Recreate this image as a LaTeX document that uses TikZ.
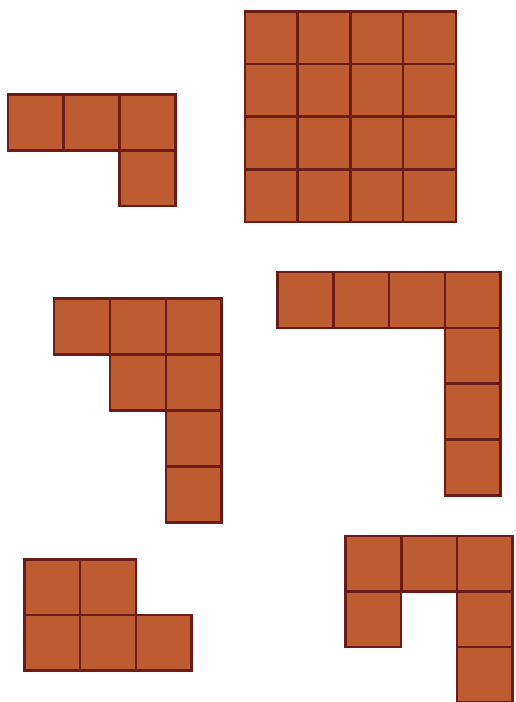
\documentclass[tikz,border=0pt]{standalone}
\begin{document}
\begin{tikzpicture}[x=1pt,y=-1pt,
  cell/.style={fill=tileorange,draw=tileedge,line width=2.6pt,line join=miter}]
\definecolor{tileorange}{HTML}{BE5C31}
\definecolor{tileedge}{HTML}{6B1C16}
\useasboundingbox[fill=white] (0,0) rectangle (516,702);
% shape 1
\foreach \x/\y in {8/94.5,63.8/94.5,119.6/94.5,119.6/150.2}
  \draw[cell] (\x,\y) rectangle ++(55.7,55.7);
% shape 2: 4x4
\foreach \i in {0,...,3}
  \foreach \j in {0,...,3}
    \draw[cell] (245+52.7*\i,11.5+52.6*\j) rectangle ++(52.7,52.6);
% shape 3
\foreach \x/\y in {54/298.5,110/298.5,165.8/298.5,110/354.5,165.8/354.5,165.8/410.5,165.8/466.5}
  \draw[cell] (\x,\y) rectangle ++(55.9,56);
% shape 4
\foreach \x/\y in {277.5/272,333.3/272,389.1/272,444.9/272,444.9/327.8,444.9/383.6,444.9/439.4}
  \draw[cell] (\x,\y) rectangle ++(55.8,55.8);
% shape 5
\foreach \x/\y in {24.3/559.2,80.1/559.2,24.3/614.8,80.1/614.8,135.9/614.8}
  \draw[cell] (\x,\y) rectangle ++(55.7,55.6);
% shape 6
\foreach \x/\y in {345.5/535.8,401.3/535.8,457.1/535.8,345.5/591.4,457.1/591.4,457.1/647}
  \draw[cell] (\x,\y) rectangle ++(55.6,55.6);
\end{tikzpicture}
\end{document}
